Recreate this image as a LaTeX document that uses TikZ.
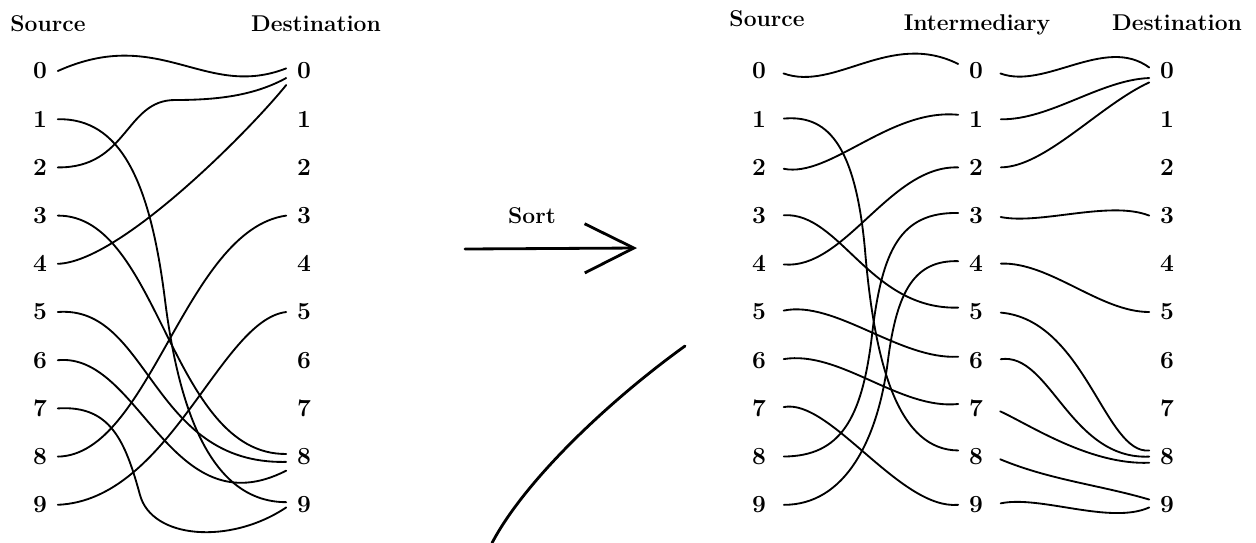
\documentclass[tikz,border=0pt]{standalone}
\usepackage{fontspec}
\usetikzlibrary{arrows.meta}
\tikzset{
  digit/.style={font=\fontsize{14}{14}\selectfont\bfseries, inner xsep=6pt, inner ysep=1pt},
  head/.style={font=\fontsize{13}{14}\selectfont\bfseries, anchor=base, inner sep=0pt},
  wire/.style={line width=1.05pt, line cap=round},
  heavy/.style={line width=1.6pt, line cap=round},
}
\begin{document}
\begin{tikzpicture}[x=0.02cm, y=-0.02cm]
\useasboundingbox (0,0) rectangle (1256,542);

\node[head] (lsrc) at (48,31) {Source};
\node[head] (ldst) at (316,31) {Destination};
\node[head] (rsrc) at (767,26) {Source};
\node[head] (rint) at (977,30) {Intermediary};
\node[head] (rdst) at (1177,30) {Destination};

\foreach \i in {0,...,9} {
  \node[digit] (ls\i) at (40,{71+48.2*\i}) {\i};
  \node[digit] (ld\i) at (304,{71+48.2*\i}) {\i};
  \node[digit] (rs\i) at (759,{71+48.2*\i}) {\i};
  \node[digit] (ri\i) at (976,{71+48.2*\i}) {\i};
  \node[digit] (rd\i) at (1167,{71+48.2*\i}) {\i};
}

% one pass: source straight to destination
\begin{scope}[wire]
\draw (ls0.east) .. controls (160,25) and (205,100) .. ([yshift=1.5pt]ld0.west);
\draw (ls1.east) .. controls (120,118) and (150,180) .. (165,300)
                 .. controls (180,420) and (215,502) .. ([yshift=1.5pt]ld9.west);
\draw (ls2.east) .. controls (128,168) and (125,100) .. (175,100)
                 .. controls (220,100) and (255,95) .. ([yshift=-4pt]ld0.west);
\draw (ls3.east) .. controls (160,215) and (170,455) .. ([yshift=1.5pt]ld8.west);
\draw (ls4.east) .. controls (120,262) and (250,130) .. ([yshift=-8pt]ld0.west);
\draw (ls5.east) .. controls (150,305) and (150,465) .. ([yshift=-3pt]ld8.west);
\draw (ls6.east) .. controls (140,352) and (170,530) .. ([yshift=-8pt]ld8.west);
\draw (ls7.east) .. controls (110,405) and (125,440) .. (140,495)
                 .. controls (152,539) and (230,545) .. ([yshift=-1.5pt]ld9.west);
\draw (ls8.east) .. controls (150,455) and (185,230) .. (ld3.west);
\draw (ls9.east) .. controls (170,500) and (220,320) .. (ld5.west);
\end{scope}

% sorting arrow
\node[head] (sortlbl) at (532,223) {Sort};
\coordinate (sortin) at (465,249);
\coordinate (sortout) at (637,248);
\draw[heavy, -{Straight Barb[length=28pt, width=28pt]}] (sortin) -- (sortout);

\coordinate (arcfoot) at (492,543);
\coordinate (arctop) at (685,346);
\draw[heavy] (arcfoot) .. controls (525,480) and (610,400) .. (arctop);

% two passes: source to intermediary
\begin{scope}[wire, shorten <=4pt]
\draw (rs0.east) .. controls (835,92) and (890,30) .. ([yshift=4pt]ri0.west);
\draw (rs1.east) .. controls (825,115) and (855,140) .. (865,250)
                 .. controls (875,370) and (900,450) .. ([yshift=3.5pt]ri8.west);
\draw (rs2.east) .. controls (830,178) and (890,108) .. ([yshift=2.5pt]ri1.west);
\draw (rs3.east) .. controls (840,212) and (870,310) .. ([yshift=2.5pt]ri5.west);
\draw (rs4.east) .. controls (845,270) and (890,165) .. (ri2.west);
\draw (rs5.east) .. controls (835,300) and (900,360) .. ([yshift=2pt]ri6.west);
\draw (rs6.east) .. controls (840,350) and (900,410) .. ([yshift=2.5pt]ri7.west);
\draw (rs7.east) .. controls (830,398) and (900,510) .. (ri9.west);
\draw (rs8.east) .. controls (840,456) and (862,420) .. (872,335)
                 .. controls (882,250) and (900,212) .. ([yshift=1.5pt]ri3.west);
\draw (rs9.east) .. controls (845,505) and (878,440) .. (888,360)
                 .. controls (897,290) and (915,260) .. ([yshift=1.5pt]ri4.west);
\end{scope}

% intermediary to destination
\begin{scope}[wire, shorten <=4pt]
\draw (ri0.east) .. controls (1045,90) and (1105,35) .. ([yshift=2pt]rd0.west);
\draw (ri1.east) .. controls (1050,120) and (1100,80) .. ([yshift=-4pt]rd0.west);
\draw (ri2.east) .. controls (1045,167) and (1100,105) .. ([yshift=-6.5pt]rd0.west);
\draw (ri3.east) .. controls (1040,225) and (1110,200) .. (rd3.west);
\draw (ri4.east) .. controls (1050,262) and (1100,312) .. (rd5.west);
\draw (ri5.east) .. controls (1085,320) and (1105,455) .. ([yshift=3.5pt]rd8.west);
\draw (ri6.east) .. controls (1050,352) and (1070,460) .. (rd8.west);
\draw (ri7.east) .. controls (1030,425) and (1090,465) .. ([yshift=-3.5pt]rd8.west);
\draw (ri8.east) .. controls (1050,480) and (1100,485) .. ([yshift=3pt]rd9.west);
\draw (ri9.east) .. controls (1040,495) and (1110,525) .. ([yshift=-1.5pt]rd9.west);
\end{scope}
\end{tikzpicture}
\end{document}
